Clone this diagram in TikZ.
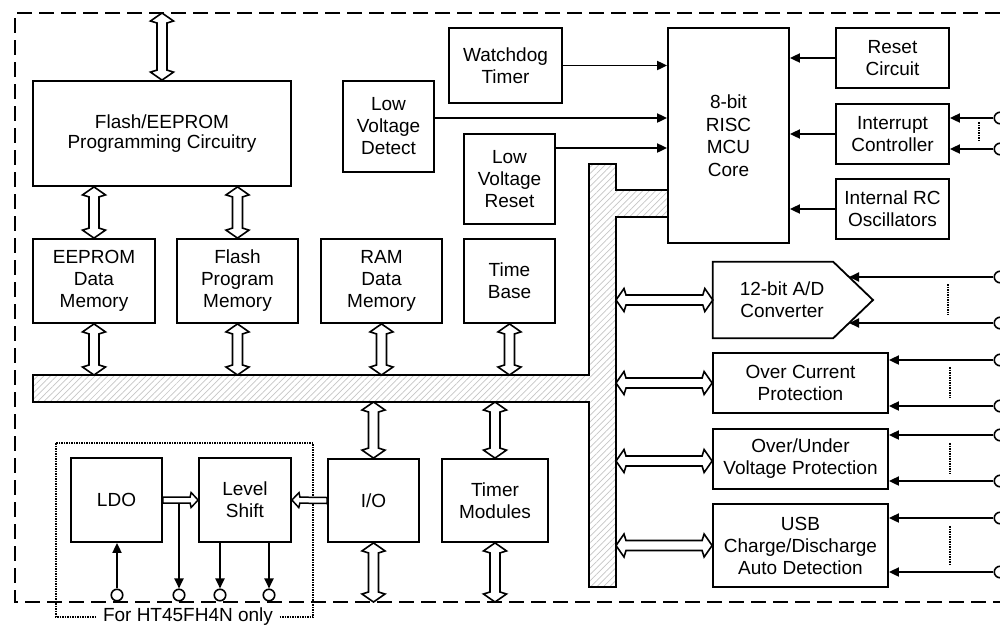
\documentclass[tikz,border=0pt]{standalone}
\usepackage{fontspec}
\setmainfont{Liberation Sans}
\usetikzlibrary{arrows.meta,patterns.meta,calc}
\tikzset{
  blk/.style={draw, line width=1.8pt, align=center, inner sep=0pt, font=\fontsize{19}{22}\selectfont},
  txt/.style={align=center, inner sep=0pt, font=\fontsize{19}{22}\selectfont},
  sig/.style={line width=1.9pt, -{Triangle[length=10pt,width=9pt]}},
  hol/.style={draw, fill=white, line width=1.6pt, line join=miter, to path={let \p1=(\tikztostart), \p2=(\tikztotarget), \n1={atan2(\y2-\y1,\x2-\x1)} in
    -- ($(\p1)+(\n1:8pt)+(\n1+90:11.5pt)$) -- ($(\p1)+(\n1:10pt)+(\n1+90:5pt)$)
    -- ($(\p2)+(\n1+180:10pt)+(\n1+90:5pt)$) -- ($(\p2)+(\n1+180:8pt)+(\n1+90:11.5pt)$)
    -- (\p2)
    -- ($(\p2)+(\n1+180:8pt)+(\n1-90:11.5pt)$) -- ($(\p2)+(\n1+180:10pt)+(\n1-90:5pt)$)
    -- ($(\p1)+(\n1:10pt)+(\n1-90:5pt)$) -- ($(\p1)+(\n1:8pt)+(\n1-90:11.5pt)$) -- cycle}},
  holone/.style={draw, fill=white, line width=1.5pt, line join=miter, to path={let \p1=(\tikztostart), \p2=(\tikztotarget), \n1={atan2(\y2-\y1,\x2-\x1)} in
    ($(\p1)+(\n1+90:3pt)$)
    -- ($(\p2)+(\n1+180:8pt)+(\n1+90:3pt)$) -- ($(\p2)+(\n1+180:7pt)+(\n1+90:7.5pt)$)
    -- (\p2)
    -- ($(\p2)+(\n1+180:7pt)+(\n1-90:7.5pt)$) -- ($(\p2)+(\n1+180:8pt)+(\n1-90:3pt)$)
    -- ($(\p1)+(\n1-90:3pt)$) -- cycle}},
  pin/.style={circle, draw, line width=1.6pt, fill=white, minimum size=11.5pt, inner sep=0pt},
  dots/.style={line width=1.5pt, densely dotted},
  busfill/.style={draw, line width=1.8pt, preaction={fill=white}, pattern={Lines[angle=45,distance=4.5pt,line width=0.7pt]}, pattern color=gray!45},
}
\begin{document}
\begin{tikzpicture}[x=1pt,y=-1pt]
\useasboundingbox (0,0) rectangle (1000,630);
% outer dashed boundary
\draw[line width=1.6pt, dash pattern=on 15pt off 7pt] (1000,13) -- (15,13) -- (15,602) -- (1000,602);
\coordinate (ftop) at (162,13);
\coordinate (bnd) at (0,602);
\coordinate (busT) at (0,375);
\coordinate (busB) at (0,402);
\coordinate (vbusR) at (616,0);

% bus
\draw[busfill] (33,375) -- (589,375) -- (589,164) -- (616,164) -- (616,190) -- (668,190) -- (668,217) -- (616,217) -- (616,587) -- (589,587) -- (589,402) -- (33,402) -- cycle;

% blocks
\node[blk, minimum width=258pt, minimum height=105pt, font=\fontsize{19}{20.5}\selectfont] (flash) at (162,133.5) {Flash/EEPROM\\Programming Circuitry};
\node[blk, minimum width=122pt, minimum height=84pt] (eeprom) at (94,281) {EEPROM\\Data\\Memory};
\node[blk, minimum width=121pt, minimum height=84pt] (fpm) at (237.5,281) {Flash\\Program\\Memory};
\node[blk, minimum width=121pt, minimum height=84pt] (ram) at (381.5,281) {RAM\\Data\\Memory};
\node[blk, minimum width=91pt, minimum height=84pt] (tbase) at (509.5,281) {Time\\Base};
\node[blk, minimum width=113pt, minimum height=75pt] (wdt) at (505.5,65.5) {Watchdog\\Timer};
\node[blk, minimum width=91pt, minimum height=91pt] (lvd) at (388.5,126.5) {Low\\Voltage\\Detect};
\node[blk, minimum width=91pt, minimum height=90pt] (lvr) at (509.5,179) {Low\\Voltage\\Reset};
\node[blk, fill=white, minimum width=121pt, minimum height=215pt, font=\fontsize{19}{22.5}\selectfont] (mcu) at (728.5,135.5) {8-bit\\RISC\\MCU\\Core};
\node[blk, minimum width=113pt, minimum height=60pt] (rst) at (892.5,58) {Reset\\Circuit};
\node[blk, minimum width=113pt, minimum height=60pt] (intc) at (892.5,134) {Interrupt\\Controller};
\node[blk, minimum width=113pt, minimum height=60pt] (rco) at (892.5,209) {Internal RC\\Oscillators};
\node[minimum width=120pt, minimum height=76pt, inner sep=0pt] (adc) at (773,300) {};
\coordinate (adctip) at (873,300);
\draw[line width=1.8pt] (adc.north west) -- (adc.north east) -- (adctip) -- (adc.south east) -- (adc.south west) -- cycle;
\node[txt] (adct) at (782,300) {12-bit A/D\\Converter};
\node[blk, minimum width=175pt, minimum height=60pt] (ocp) at (800.5,383) {Over Current\\Protection};
\node[blk, minimum width=175pt, minimum height=60pt] (ovp) at (800.5,459) {Over/Under\\Voltage Protection};
\node[blk, minimum width=175pt, minimum height=83pt] (usb) at (800.5,545.5) {USB\\Charge/Discharge\\Auto Detection};
\node[blk, minimum width=91pt, minimum height=83pt] (io) at (373.5,500.5) {I/O};
\node[blk, minimum width=106pt, minimum height=83pt] (tmr) at (495,500.5) {Timer\\Modules};
\node[blk, minimum width=91pt, minimum height=84pt] (ldo) at (116.5,500) {LDO};
\node[blk, minimum width=92pt, minimum height=84pt] (ls) at (245,500) {Level\\Shift};

% hollow bus arrows
\draw[hol] (flash.north) to (ftop);
\draw[hol] (flash.south -| eeprom) to (eeprom.north);
\draw[hol] (flash.south -| fpm) to (fpm.north);
\draw[hol] (eeprom.south) to (eeprom.south |- busT);
\draw[hol] (fpm.south) to (fpm.south |- busT);
\draw[hol] (ram.south) to (ram.south |- busT);
\draw[hol] (tbase.south) to (tbase.south |- busT);
\draw[hol] (io.north |- busB) to (io.north);
\draw[hol] (tmr.north |- busB) to (tmr.north);
\draw[hol] (io.south) to (io.south |- bnd);
\draw[hol] (tmr.south) to (tmr.south |- bnd);
\draw[hol] (vbusR |- adc.west) to (adc.west);
\draw[hol] (vbusR |- ocp.west) to (ocp.west);
\draw[hol] ([yshift=-2pt]vbusR |- ovp.west) to ([yshift=-2pt]ovp.west);
\draw[hol] (vbusR |- usb.west) to (usb.west);

% signals into MCU
\draw[sig] (wdt.east) -- (wdt.east -| mcu.west);
\draw[sig] ([yshift=8.5pt]lvd.east) -- ([yshift=8.5pt]lvd.east -| mcu.west);
\draw[sig] ([yshift=31pt]lvr.east) -- ([yshift=31pt]lvr.east -| mcu.west);
\draw[sig] (rst.west) -- (rst.west -| mcu.east);
\draw[sig] (intc.west) -- (intc.west -| mcu.east);
\draw[sig] (rco.west) -- (rco.west -| mcu.east);

% right pins
\node[pin] (pi1) at (1000,118) {};
\node[pin] (pi2) at (1000,149) {};
\node[pin] (pa1) at (1000,277) {};
\node[pin] (pa2) at (1000,323) {};
\node[pin] (po1) at (1000,360) {};
\node[pin] (po2) at (1000,406) {};
\node[pin] (pv1) at (1000,435) {};
\node[pin] (pv2) at (1000,481) {};
\node[pin] (pu1) at (1000,518) {};
\node[pin] (pu2) at (1000,572) {};
\coordinate (adcA) at (849,277);
\coordinate (adcB) at (849,323);
\draw[sig] (pi1.west) -- (pi1 -| intc.east);
\draw[sig] (pi2.west) -- (pi2 -| intc.east);
\draw[sig] (pa1.west) -- (adcA);
\draw[sig] (pa2.west) -- (adcB);
\draw[sig] (po1.west) -- (po1 -| ocp.east);
\draw[sig] (po2.west) -- (po2 -| ocp.east);
\draw[sig] (pv1.west) -- (pv1 -| ovp.east);
\draw[sig] (pv2.west) -- (pv2 -| ovp.east);
\draw[sig] (pu1.west) -- (pu1 -| usb.east);
\draw[sig] (pu2.west) -- (pu2 -| usb.east);
\draw[dots] (979,122) -- (979,142);
\draw[dots] (948,284) -- (948,315);
\draw[dots] (950,367) -- (950,398);
\draw[dots] (950,443) -- (950,474);
\draw[dots] (950,526) -- (950,564);

% HT45FH4N section
\draw[dots] (56,443) rectangle (313,617);
\node[txt, fill=white, inner xsep=6pt, inner ysep=2pt] (lbl) at (188,617) {For HT45FH4N only};
\draw[holone] (ldo.east) to (ls.west);
\draw[holone] (io.west) to (ls.east);
\node[pin] (b1) at (117,595) {};
\node[pin] (b2) at (179,595) {};
\node[pin] (b3) at (220,595) {};
\node[pin] (b4) at (269,595) {};
\coordinate (jn) at (179,503.5);
\draw[sig] (b1.north) -- (b1.north |- ldo.south);
\draw[sig] (jn) -- (b2.north);
\draw[sig] (ls.south -| b3) -- (b3.north);
\draw[sig] (ls.south -| b4) -- (b4.north);
\end{tikzpicture}
\end{document}
